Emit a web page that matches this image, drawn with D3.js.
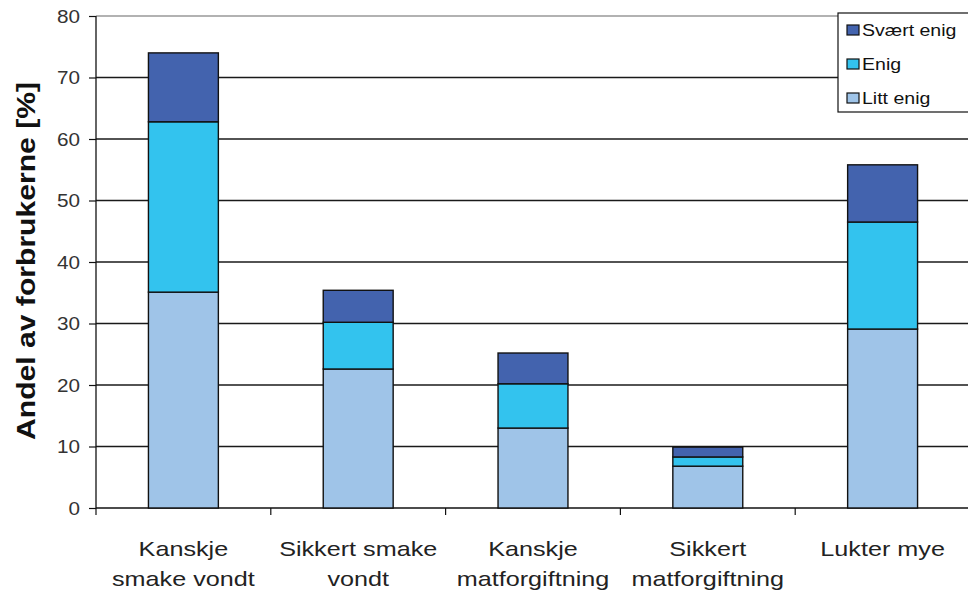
<!DOCTYPE html>
<html><head><meta charset="utf-8">
<script src="https://cdn.jsdelivr.net/npm/d3@7"></script>
<style>body{margin:0;background:#fff}svg{display:block}text{font-family:"Liberation Sans",Arial,sans-serif}</style>
</head><body>
<svg id="c" width="968" height="596"></svg>
<script>
const categories = [["Kanskje","smake vondt"],["Sikkert smake","vondt"],["Kanskje","matforgiftning"],["Sikkert","matforgiftning"],["Lukter mye"]];
const seriesNames = ["Litt enig","Enig","Svært enig"];
const littEnig  = [35.1, 22.6, 13.0, 6.8, 29.1];
const enig      = [27.7,  7.6,  7.2, 1.5, 17.4];
const svaertEnig= [11.2,  5.2,  5.0, 1.6,  9.3];
const yTicks = [0,10,20,30,40,50,60,70,80];
const yTitle = "Andel av forbrukerne [%]";
const colors = ["#9fc4e8","#33c3ee","#4363ae"];

const svg = d3.select("#c");
const keys = categories.map((c,i)=>"c"+i);
const x = d3.scaleBand().domain(keys).range([96,970]).paddingInner(0.6).paddingOuter(0.3);
const y = d3.scaleLinear().domain([0,80]).range([508,16]);
const step = x.step();

// gridlines
svg.append("g").selectAll("line").data(yTicks.filter(t=>t>0)).join("line")
  .attr("x1",96).attr("x2",968).attr("y1",d=>y(d)).attr("y2",d=>y(d))
  .attr("stroke",d=>d===80?"#999":"#1a1a1a").attr("stroke-width",1.3);

// y axis
const ya = svg.append("g").attr("transform","translate(96,0)")
  .call(d3.axisLeft(y).tickValues(yTicks).tickSize(7).tickPadding(6).tickFormat(d3.format("d")));
ya.select(".domain").attr("stroke","#111").attr("stroke-width",1.3).attr("d","M0,"+y(80)+"V"+y(0));
ya.selectAll(".tick line").attr("stroke","#111").attr("stroke-width",1.2);
ya.selectAll(".tick text").attr("font-size",18).attr("fill","#333").attr("dy","0.36em")
  .attr("transform","scale(1.15,1)").attr("x",-16/1.15);

// x axis baseline and ticks
svg.append("line").attr("x1",96).attr("x2",968).attr("y1",y(0)).attr("y2",y(0)).attr("stroke","#111").attr("stroke-width",1.3);
const bounds = keys.map(k=>x(k)-step*0.3).concat([x(keys[4])+x.bandwidth()+step*0.3]);
svg.append("g").selectAll("line").data(bounds).join("line")
  .attr("x1",d=>d).attr("x2",d=>d).attr("y1",y(0)).attr("y2",y(0)+7).attr("stroke","#111").attr("stroke-width",1.2);

// stacked bars
const rows = keys.map((k,i)=>({key:k, "Litt enig":littEnig[i], "Enig":enig[i], "Svært enig":svaertEnig[i]}));
const stack = d3.stack().keys(seriesNames)(rows);
svg.append("g").selectAll("g").data(stack).join("g").attr("fill",(d,i)=>colors[i])
  .selectAll("rect").data(d=>d).join("rect")
  .attr("x",d=>x(d.data.key)).attr("width",x.bandwidth())
  .attr("y",d=>y(d[1])).attr("height",d=>y(d[0])-y(d[1]))
  .attr("stroke","#111").attr("stroke-width",1.4);

// x labels
categories.forEach((lines,i)=>{
  const cx = x(keys[i]) + x.bandwidth()/2;
  const g = svg.append("g").attr("transform",`translate(${cx},0) scale(1.26,1)`);
  lines.forEach((t,j)=>{
    g.append("text").attr("x",0).attr("y",556+j*30).attr("text-anchor","middle")
      .attr("font-size",20).attr("fill","#222").text(t);
  });
});

// y title
svg.append("text").attr("transform","translate(35,261) rotate(-90)")
  .attr("text-anchor","middle").attr("font-size",26).attr("font-weight","bold").attr("fill","#111")
  .attr("textLength",358).attr("lengthAdjust","spacingAndGlyphs").text(yTitle);

// legend
const lg = svg.append("g");
lg.append("rect").attr("x",838).attr("y",13).attr("width",140).attr("height",99)
  .attr("fill","#fff").attr("stroke","#111").attr("stroke-width",1.2);
const legendItems = seriesNames.slice().reverse();
legendItems.forEach((n,i)=>{
  const cy = 30 + i*34;
  lg.append("rect").attr("x",847).attr("y",cy-5).attr("width",12).attr("height",10)
    .attr("fill",colors[seriesNames.indexOf(n)]).attr("stroke","#111").attr("stroke-width",1.2);
  lg.append("text").attr("transform",`translate(862,${cy+6}) scale(1.15,1)`)
    .attr("font-size",17).attr("fill","#111").text(n);
});
</script>
</body></html>
